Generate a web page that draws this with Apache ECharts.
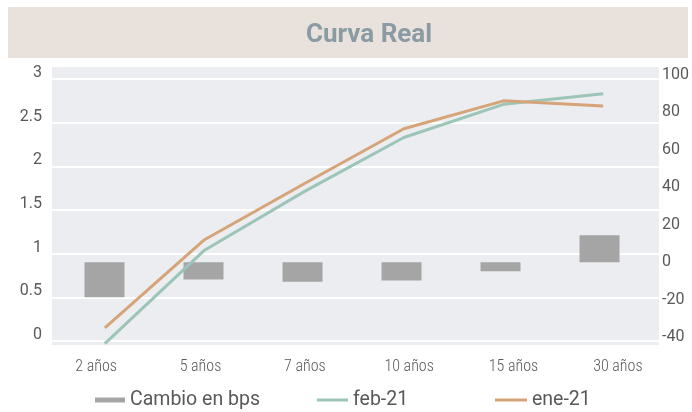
<!DOCTYPE html>
<html>
<head>
<meta charset="utf-8">
<script src="https://cdn.jsdelivr.net/npm/echarts@6/dist/echarts.min.js"></script>
<style>
  html, body { margin: 0; padding: 0; background: #ffffff; }
  #chart { width: 692px; height: 412px; }
</style>
</head>
<body>
<div id="chart"></div>
<script>
// Plazos de la curva real
const categories = ['2 años', '5 años', '7 años', '10 años', '15 años', '30 años'];
// Variación entre cortes, en puntos base (eje derecho)
const cambioBps = [-18.7, -9.3, -10.5, -9.8, -4.8, 14.4];
// Tasas reales por plazo (eje izquierdo)
const feb21 = [-0.03, 1.04, 1.71, 2.33, 2.71, 2.83];
const ene21 = [0.15, 1.16, 1.80, 2.43, 2.75, 2.69];

const seriesNames = ['Cambio en bps', 'feb-21', 'ene-21'];
const colors = { bar: '#a5a5a5', feb: '#9cc5b8', ene: '#d5a478' };

const axisFont = { fontFamily: 'Roboto', fontSize: 16, color: '#595959' };
const legendText = { fontFamily: 'Roboto', fontSize: 19.5, color: '#595959' };

const chart = echarts.init(document.getElementById('chart'), null, { renderer: 'canvas' });

chart.setOption({
  animation: false,
  title: {
    text: 'Curva Real',
    left: 306,
    top: 22,
    padding: 0,
    textStyle: { fontFamily: 'Roboto', fontWeight: 'bold', fontSize: 26, color: '#8a9ba4' }
  },
  graphic: [
    { type: 'rect', z: -10, shape: { x: 8, y: 7, width: 680, height: 51 }, style: { fill: '#e8e1dc' } },
    { type: 'rect', z: -10, shape: { x: 52, y: 67, width: 607, height: 278 }, style: { fill: '#ecedf0' } }
  ],
  grid: [
    // gridlines + left labels
    { left: 52, right: 33, top: 79, bottom: 71 },
    // bars (right axis)
    { left: 55, right: 39, top: 75, bottom: 75 },
    // lines (left scale)
    { left: 55, right: 39, top: 79, bottom: 71 },
    // category labels
    { left: 44, right: 22, top: 79, bottom: 71 }
  ],
  xAxis: [
    { gridIndex: 0, type: 'category', data: categories, show: false },
    { gridIndex: 1, type: 'category', data: categories, show: false },
    { gridIndex: 2, type: 'category', data: categories, show: false },
    {
      gridIndex: 3, type: 'category', data: categories,
      axisLine: { show: false }, axisTick: { show: false },
      axisLabel: {
        margin: 18,
        fontStyle: 'condensed',
        fontWeight: 300,
        fontFamily: 'Roboto',
        fontSize: 16, color: '#595959'
      }
    }
  ],
  yAxis: [
    {
      gridIndex: 0, type: 'value', min: 0, max: 3, interval: 0.5, position: 'left',
      axisLine: { show: false }, axisTick: { show: false },
      splitLine: { show: true, lineStyle: { color: '#ffffff', width: 2 } },
      axisLabel: Object.assign({ margin: 10, verticalAlign: 'bottom', lineHeight: 12 }, axisFont)
    },
    {
      gridIndex: 1, type: 'value', min: -40, max: 100, interval: 20, position: 'right',
      axisLine: { show: false }, axisTick: { show: false }, splitLine: { show: false },
      axisLabel: Object.assign({ margin: 13 }, axisFont)
    },
    { gridIndex: 2, type: 'value', min: 0, max: 3, interval: 0.5, show: false },
    { gridIndex: 3, type: 'value', min: 0, max: 3, show: false, splitLine: { show: false } }
  ],
  legend: [
    {
      data: [seriesNames[0]], left: 95, top: 390, padding: 0,
      icon: 'rect', itemWidth: 30, itemHeight: 5, textStyle: legendText
    },
    {
      data: [seriesNames[1]], left: 317, top: 390, padding: 0,
      icon: 'rect', itemWidth: 31, itemHeight: 3, textStyle: legendText
    },
    {
      data: [seriesNames[2]], left: 495, top: 390, padding: 0,
      icon: 'rect', itemWidth: 32, itemHeight: 3, textStyle: legendText
    }
  ],
  series: [
    {
      name: seriesNames[0], type: 'bar', xAxisIndex: 1, yAxisIndex: 1,
      data: cambioBps, barWidth: 40,
      itemStyle: { color: colors.bar }
    },
    {
      name: seriesNames[1], type: 'line', xAxisIndex: 2, yAxisIndex: 2,
      data: feb21, showSymbol: false, symbol: 'none', clip: false,
      itemStyle: { color: colors.feb },
      lineStyle: { color: colors.feb, width: 3 }
    },
    {
      name: seriesNames[2], type: 'line', xAxisIndex: 2, yAxisIndex: 2,
      data: ene21, showSymbol: false, symbol: 'none', clip: false,
      itemStyle: { color: colors.ene },
      lineStyle: { color: colors.ene, width: 3 }
    }
  ]
});
</script>
</body>
</html>
